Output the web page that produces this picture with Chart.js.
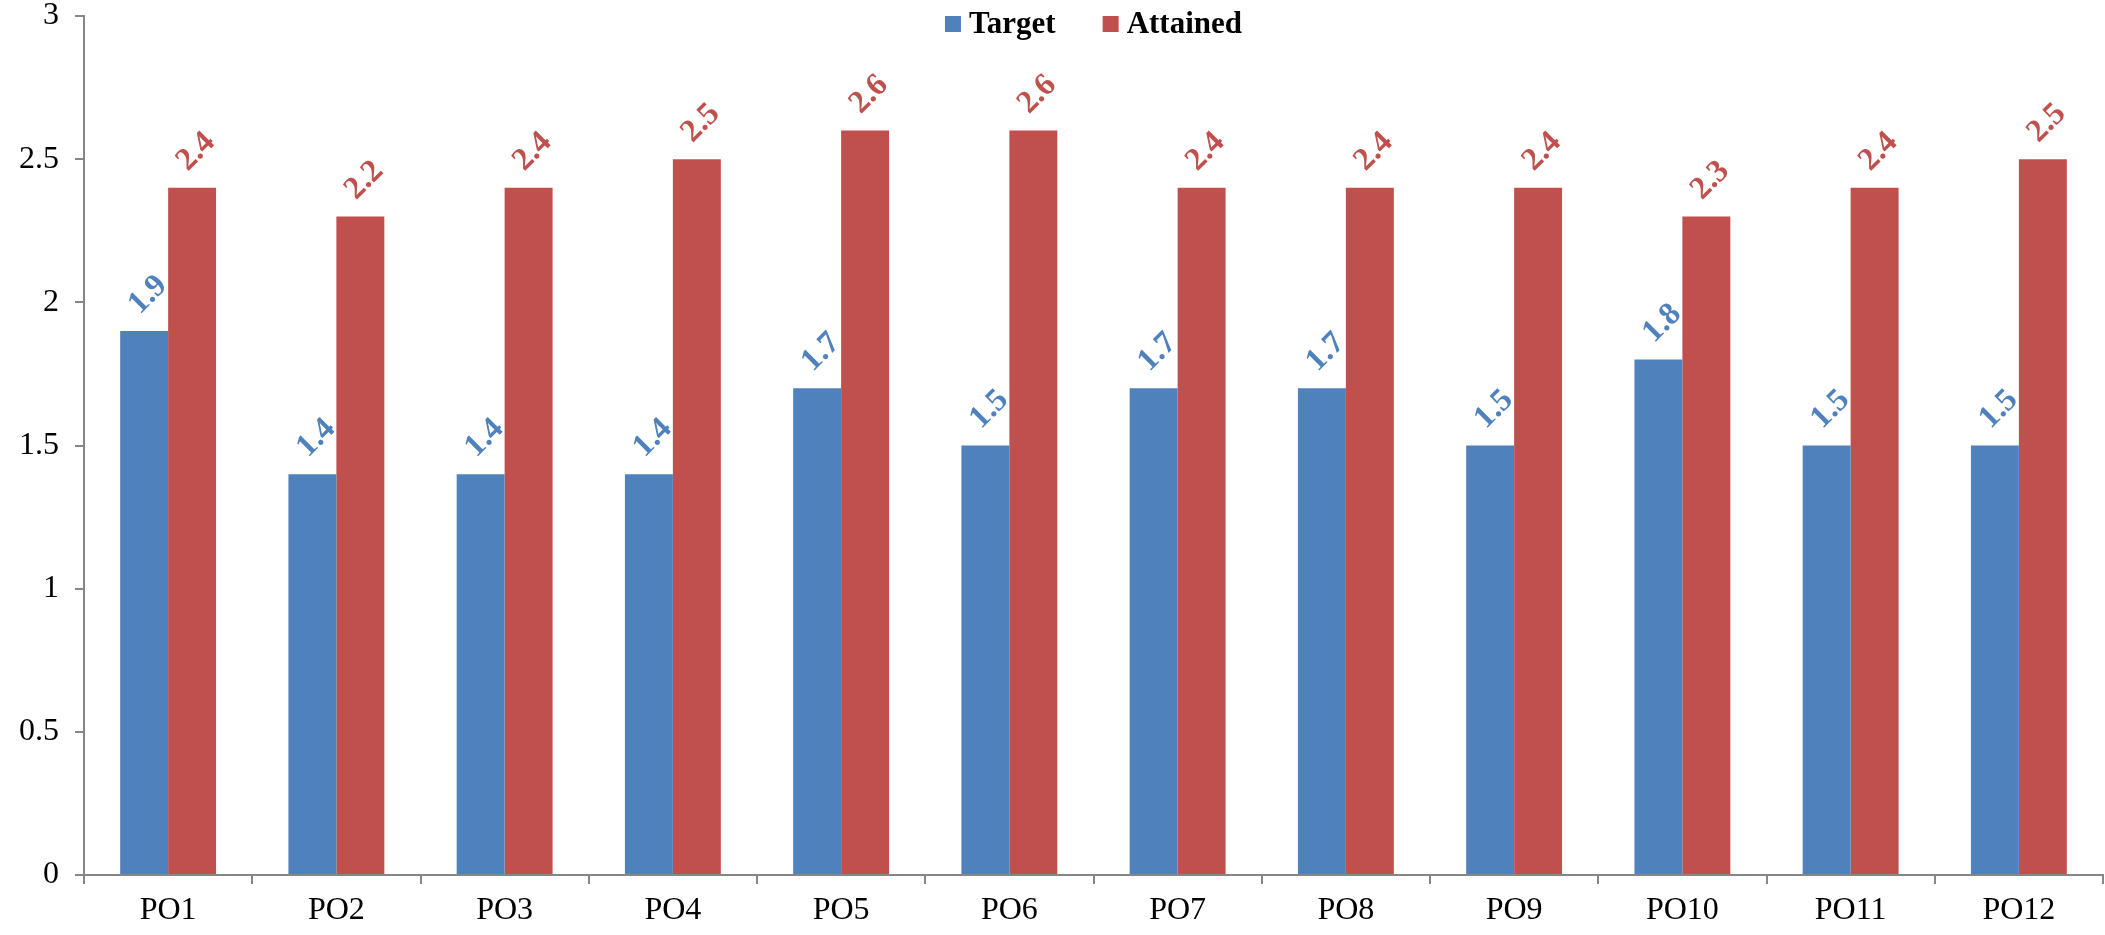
<!DOCTYPE html>
<html>
<head>
<meta charset="utf-8">
<script src="https://cdn.jsdelivr.net/npm/chart.js@4/dist/chart.umd.min.js"></script>
<style>
  html, body { margin: 0; padding: 0; background: #fff; }
  #wrap { width: 2105px; height: 935px; position: relative; }
</style>
</head>
<body>
<div id="wrap"><canvas id="poChart"></canvas></div>
<script>
var categories = ['PO1', 'PO2', 'PO3', 'PO4', 'PO5', 'PO6', 'PO7', 'PO8', 'PO9', 'PO10', 'PO11', 'PO12'];
var targetValues = [1.9, 1.4, 1.4, 1.4, 1.7, 1.5, 1.7, 1.7, 1.5, 1.8, 1.5, 1.5];
var attainedValues = [2.4, 2.3, 2.4, 2.5, 2.6, 2.6, 2.4, 2.4, 2.4, 2.3, 2.4, 2.5];
// labels as printed on the original (PO2 reads 2.2 though the bar sits at 2.3)
var targetLabels = ['1.9', '1.4', '1.4', '1.4', '1.7', '1.5', '1.7', '1.7', '1.5', '1.8', '1.5', '1.5'];
var attainedLabels = ['2.4', '2.2', '2.4', '2.5', '2.6', '2.6', '2.4', '2.4', '2.4', '2.3', '2.4', '2.5'];
var yTicks = [0, 0.5, 1, 1.5, 2, 2.5, 3];

var BLUE = '#4F81BD';
var RED = '#C0504D';
var AXIS = '#868686';
var SERIF = '"Liberation Serif", "Times New Roman", serif';

// rotated value labels above each bar
const barLabels = {
  id: 'barLabels',
  afterDatasetsDraw(chart) {
    const ctx = chart.ctx;
    chart.data.datasets.forEach(function (ds, i) {
      const meta = chart.getDatasetMeta(i);
      meta.data.forEach(function (bar, j) {
        ctx.save();
        ctx.translate(bar.x + 4, bar.y - 36);
        ctx.rotate(-Math.PI / 4);
        ctx.font = 'bold 32px ' + SERIF;
        ctx.fillStyle = ds.backgroundColor;
        ctx.textAlign = 'center';
        ctx.textBaseline = 'middle';
        ctx.fillText(ds.valueLabels[j], 0, 0);
        ctx.restore();
      });
    });
  }
};

// legend drawn inside the plot, top centre, like the original
const topLegend = {
  id: 'topLegend',
  afterDraw(chart) {
    const ctx = chart.ctx;
    const area = chart.chartArea;
    const box = 16, gap = 8, spacing = 47;
    ctx.save();
    ctx.font = 'bold 31px ' + SERIF;
    let total = 0;
    const widths = chart.data.datasets.map(function (ds) {
      const w = ctx.measureText(ds.label).width;
      total += box + gap + w;
      return w;
    });
    total += spacing * (widths.length - 1);
    let x = (area.left + area.right) / 2 - total / 2;
    const cy = 24;
    ctx.textBaseline = 'middle';
    ctx.textAlign = 'left';
    chart.data.datasets.forEach(function (ds, i) {
      ctx.fillStyle = ds.backgroundColor;
      ctx.fillRect(x, cy - box / 2, box, box);
      ctx.fillStyle = '#000';
      ctx.fillText(ds.label, x + box + gap, cy + 1);
      x += box + gap + widths[i] + spacing;
    });
    ctx.restore();
  }
};

const ctx = document.getElementById('poChart').getContext('2d');

const chart = new Chart(ctx, {
  type: 'bar',
  data: {
    labels: categories,
    datasets: [{
      label: 'Target',
      data: targetValues,
      valueLabels: targetLabels,
      backgroundColor: BLUE,
      categoryPercentage: 0.57,
      barPercentage: 1.0
    },
    {
      label: 'Attained',
      data: attainedValues,
      valueLabels: attainedLabels,
      backgroundColor: RED,
      categoryPercentage: 0.57,
      barPercentage: 1.0
    }]
  },
  options: {
    responsive: true,
    maintainAspectRatio: false,
    animation: false,
    layout: {
      padding: { left: 3, right: 2, top: 16, bottom: -3 }
    },
    plugins: {
      tooltip: { enabled: false },
      legend: { display: false }
    },
    scales: {
      x: {
        offset: true,
        grid: {
          display: true,
          offset: true,
          drawOnChartArea: false,
          drawTicks: true,
          tickLength: 9,
          color: AXIS,
          lineWidth: 2
        },
        border: { color: AXIS, width: 2 },
        ticks: {
          color: '#000',
          padding: 11,
          font: { family: SERIF, size: 32, lineHeight: 1 }
        }
      },
      y: {
        min: 0,
        max: 3,
        afterBuildTicks: function (axis) {
          axis.ticks = yTicks.map(function (v) { return { value: v }; });
        },
        afterFit: function (axis) {
          axis.paddingTop = 0;
        },
        grid: {
          display: true,
          drawOnChartArea: false,
          drawTicks: true,
          tickLength: 9,
          color: AXIS,
          lineWidth: 2
        },
        border: { color: AXIS, width: 2 },
        ticks: {
          color: '#000',
          padding: 16,
          font: { family: SERIF, size: 32, lineHeight: 1 },
          callback: function (v) { return String(v); }
        }
      }
    }
  },
  plugins: [barLabels, topLegend]
});
</script>
</body>
</html>
